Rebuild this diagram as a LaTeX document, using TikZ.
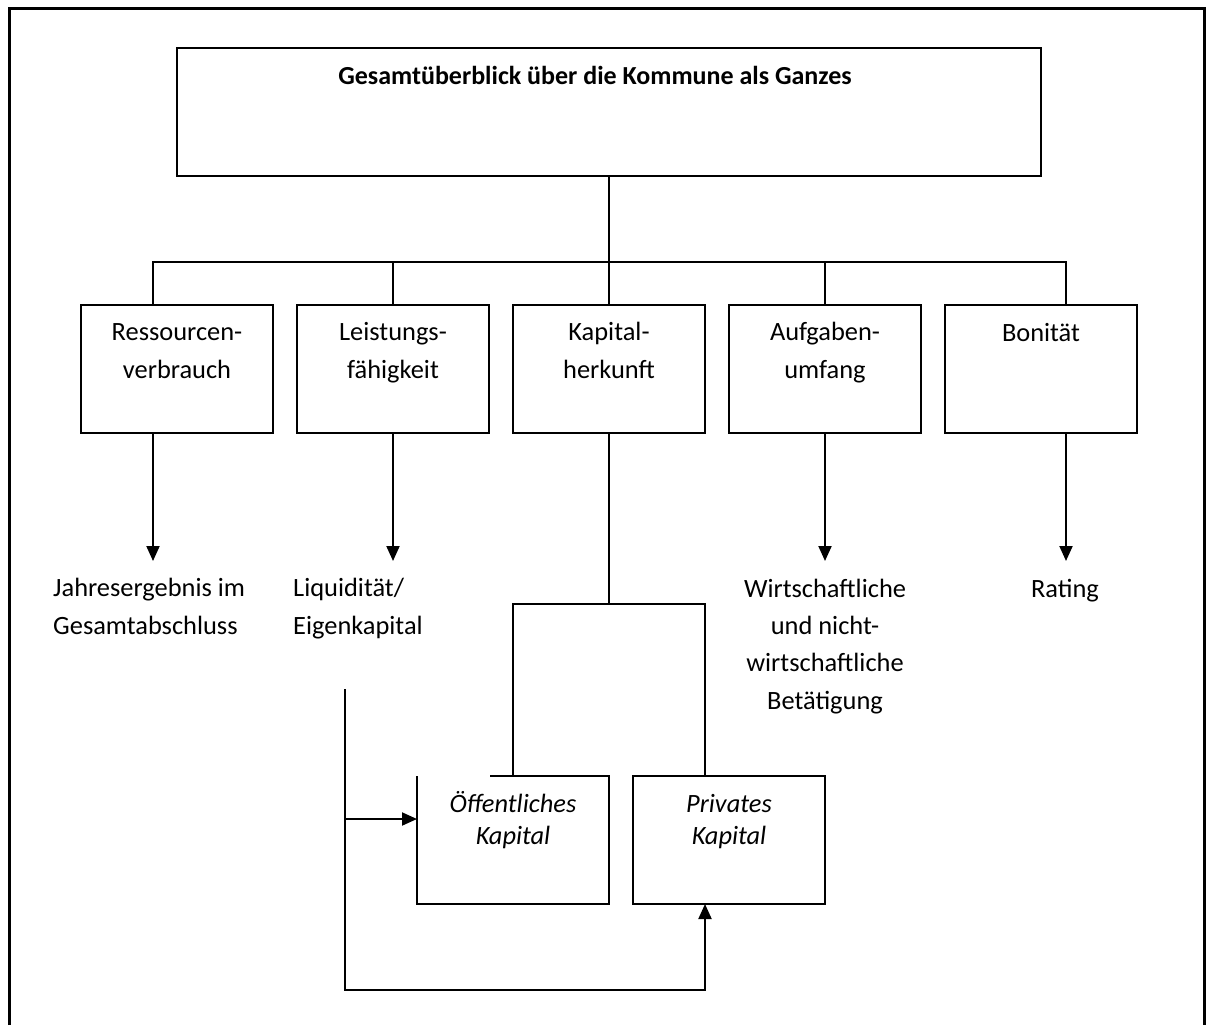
\documentclass[tikz,border=0pt]{standalone}
\usepackage{fontspec}
\setmainfont{Carlito}
\usetikzlibrary{arrows.meta,calc}
\begin{document}
\begin{tikzpicture}[x=1pt,y=-1pt,
  box/.style={draw, line width=2pt, minimum width=192pt, minimum height=128pt, inner sep=0pt, outer sep=0pt, anchor=north west},
  plainbox/.style={minimum width=192pt, minimum height=128pt, inner sep=0pt, outer sep=0pt, anchor=north west},
  lbl/.style={font=\fontsize{26.4}{37.3}\selectfont, anchor=base, align=center, inner sep=0pt},
  lblleft/.style={font=\fontsize{26.4}{37.3}\selectfont, anchor=base west, align=left, inner sep=0pt},
  ital/.style={font=\itshape\fontsize{26.4}{31.3}\selectfont, anchor=base, align=center, inner sep=0pt},
  conn/.style={line width=2pt, line join=miter},
  arr/.style={line width=2pt, line join=miter, -{Triangle[width=13pt,length=15pt]}},
]
\useasboundingbox (0,0) rectangle (1206,1025);
\draw[line width=3pt] (9,1025) -- (9,9) -- (1204.5,9) -- (1204.5,1025);

% top box
\node[box, minimum width=864pt] (top) at (177,48) {};
\node[lbl, font=\bfseries\fontsize{26}{37.3}\selectfont] (title) at (595,84) {Gesamtüberblick über die Kommune als Ganzes};

% second row
\node[box] (res) at (81,305) {};
\node[box] (lei) at (297,305) {};
\node[box] (kap) at (513,305) {};
\node[box] (auf) at (729,305) {};
\node[box] (bon) at (945,305) {};
\node[lbl] (tres) at (177,378) {Ressourcen-\\verbrauch};
\node[lbl] (tlei) at (393,378) {Leistungs-\\fähigkeit};
\node[lbl] (tkap) at (609,378) {Kapital-\\herkunft};
\node[lbl] (tauf) at (825,378) {Aufgaben-\\umfang};
\node[lbl] (tbon) at (1041,341) {Bonität};

% bus
\coordinate (busc) at (609,262);
\coordinate (busl) at (153,262);
\coordinate (busr) at (1066,262);
\draw[conn] (top.south) -- (busc);
\draw[conn] (busl |- res.north) -- (busl) -- (busr) -- (busr |- bon.north);
\draw[conn] (lei.north |- busl) -- (lei.north);
\draw[conn] (busc) -- (kap.north);
\draw[conn] (auf.north |- busl) -- (auf.north);

% results
\node[lblleft] (rres) at (53,634) {Jahresergebnis im\\Gesamtabschluss};
\node[lblleft] (rlei) at (293,634) {Liquidität/\\Eigenkapital};
\node[lbl] (rauf) at (825,709) {Wirtschaftliche\\und nicht-\\wirtschaftliche\\Betätigung};
\node[lbl] (rbon) at (1065,597) {Rating};
\coordinate (ta) at (153,561);
\coordinate (tb) at (393,561);
\coordinate (tc) at (825,561);
\coordinate (td) at (1066,561);
\draw[arr] (ta |- res.south) -- (ta);
\draw[arr] (lei.south) -- (tb);
\draw[arr] (auf.south) -- (tc);
\draw[arr] (td |- bon.south) -- (td);

% capital boxes
\node[plainbox] (oeff) at (417,776) {};
\node[box] (priv) at (633,776) {};
\draw[conn] ($(oeff.north west)+(73,0)$) -- (oeff.north east) -- (oeff.south east) -- (oeff.south west) -- (oeff.north west);
\node[ital] (toeff) at (513,844) {Öffentliches\\Kapital};
\node[ital] (tpriv) at (729,844) {Privates\\Kapital};

\coordinate (kj) at (609,604);
\coordinate (pin) at ($(priv.north west)+(72,0)$);
\draw[conn] (kap.south) -- (kj);
\draw[conn] (oeff.north) -- (oeff.north |- kj) -- (kj -| pin) -- (pin);

% feedback
\coordinate (fb1) at (345,689);
\coordinate (fb2) at (345,990);
\coordinate (fbm) at (345,819);
\draw[arr] (fbm) -- (fbm -| oeff.west);
\draw[arr] (fb1) -- (fb2) -| (pin |- priv.south);
\end{tikzpicture}
\end{document}
